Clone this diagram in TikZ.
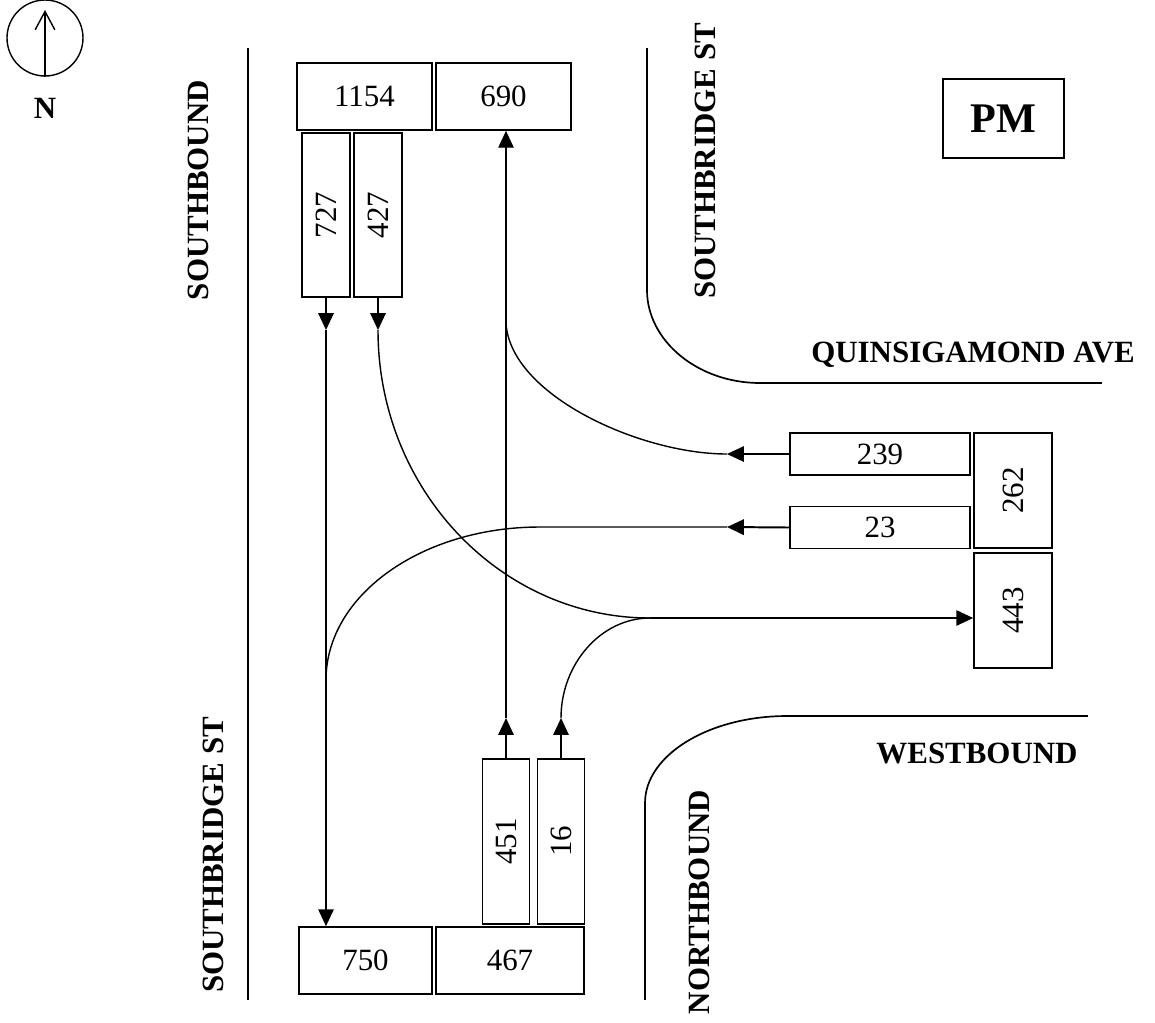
\documentclass[tikz,border=0pt]{standalone}
\usepackage{fontspec}
\setmainfont{Liberation Serif}
\usepackage{graphicx}
\usetikzlibrary{arrows.meta}

\tikzset{
  countbox/.style 2 args={draw, line width=1.2pt, inner sep=0pt,
    minimum width=#1*0.025cm, minimum height=#2*0.025cm,
    font=\fontsize{22}{26}\selectfont},
  roadname/.style={inner sep=0pt, font=\fontsize{22}{26}\selectfont\bfseries},
  road/.style={line width=2pt},
  curbbend/.style={line width=1.2pt},
  flow/.style={line width=1pt, -{Triangle[length=12pt,width=11pt]}},
  link/.style={line width=1pt},
}

\begin{document}
\begin{tikzpicture}[x=0.025cm, y=-0.025cm]
\useasboundingbox (0,0) rectangle (1155,1022);

% north arrow
\node[circle, draw, line width=1pt, minimum size=76*0.025cm, inner sep=0pt] (compass) at (45,38) {};
\draw[line width=1pt, -{Straight Barb[length=13pt,width=14pt]}] (compass.south) -- (45,10);
\node[roadname] (north) at (45,108) {N};

% curbs
\draw[road] (248,48) -- (248,1000);
\draw[road] (647,48) -- (647,290);
\draw[curbbend] (647,290) .. controls (647,341) and (698,383) .. (760,383);
\draw[road] (760,383) -- (1102,383);
\draw[road] (1088,716) -- (787,716);
\draw[curbbend] (787,716) .. controls (709,716) and (645,755) .. (645,803);
\draw[road] (645,803) -- (645,1000);

% street names
\node[roadname, rotate=90] (sbound) at (198,190) {SOUTHBOUND};
\node[roadname, rotate=90] (sbstwest) at (213,855) {SOUTHBRIDGE ST};
\node[roadname, rotate=90] (sbsteast) at (705,161) {SOUTHBRIDGE ST};
\node[roadname, rotate=90] (nbound) at (699,902) {NORTHBOUND};
\node[roadname] (quins) at (973,355) {QUINSIGAMOND AVE};
\node[roadname] (wbound) at (977,753) {WESTBOUND};
\node[draw, line width=1.2pt, minimum width=121*0.025cm, minimum height=79*0.025cm,
  font=\fontsize{30}{34}\selectfont\bfseries] (pm) at (1003.5,118.5) {PM};

% counts
\node[countbox={135}{67}] (b1154) at (364.5,96.5) {1154};
\node[countbox={135}{67}] (b690) at (503.5,96.5) {690};
\node[countbox={48}{164}] (b727) at (326,215) {\rotatebox{90}{727}};
\node[countbox={48}{164}] (b427) at (378,215) {\rotatebox{90}{427}};
\node[countbox={180}{42}] (b239) at (880,454) {239};
\node[countbox={180}{42}] (b23) at (880,527.5) {23};
\node[countbox={78}{115}] (b262) at (1013,490.5) {\rotatebox{90}{262}};
\node[countbox={78}{115}] (b443) at (1013,610.5) {\rotatebox{90}{443}};
\node[countbox={47}{165}] (b451) at (506,841.5) {\rotatebox{90}{451}};
\node[countbox={47}{165}] (b16) at (561,841.5) {\rotatebox{90}{16}};
\node[countbox={133}{67}] (b750) at (365.5,960.5) {750};
\node[countbox={148}{67}] (b467) at (510,960.5) {467};

\coordinate (s727) at (326,330);
\coordinate (s427) at (378,330);
\coordinate (s451) at (506,718);
\coordinate (s16) at (561,718);
\coordinate (s239) at (727,454);
\coordinate (s23) at (727,527);
\coordinate (j443) at (650,618);
\coordinate (m690) at (506,323);
\coordinate (m750) at (326,680);

% movements
\draw[flow] (b727.south) -- (s727);
\draw[flow] (s727) -- (s727 |- b750.north);
\draw[flow] (b427.south) -- (s427);
\draw[link] (s427) .. controls (378,489) and (500,618) .. (j443);
\draw[flow] (j443) -- (j443 -| b443.west);
\draw[flow] (b16.north) -- (s16);
\draw[link] (s16) .. controls (561,664) and (601,618) .. (j443);
\draw[flow] (b451.north) -- (s451);
\draw[flow] (s451) -- (s451 |- b690.south);
\draw[flow] (b239.west) -- (s239);
\draw[link] (s239) .. controls (640,454) and (510,395) .. (m690);
\draw[flow, line width=1.4pt] (b23.west) -- (s23);
\draw[link] (s23) -- (540,527) .. controls (422,527) and (326,595) .. (m750);
\end{tikzpicture}
\end{document}
